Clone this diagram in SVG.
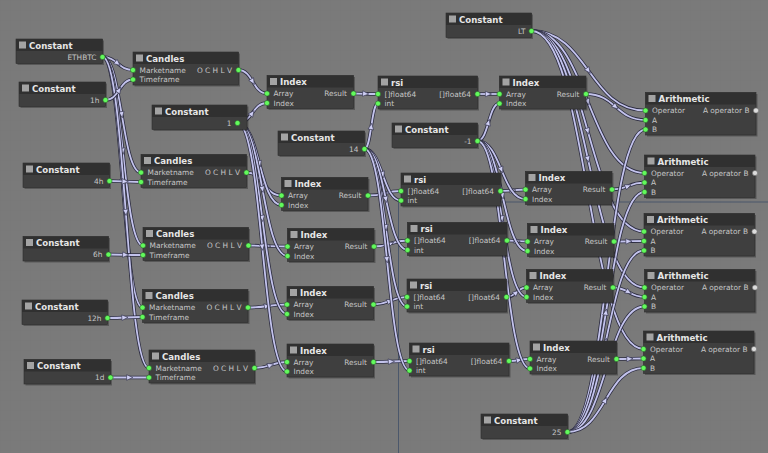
<svg xmlns="http://www.w3.org/2000/svg" width="768" height="453" viewBox="0 0 768 453">
<style>
.sh{fill:#000;fill-opacity:.28}
.bd{fill:#3f3f3f;stroke:#2c2c2c;stroke-width:.6}
.tb{fill:#303030}
.cb{fill:#a3a3a3}
.tt{font-family:"DejaVu Sans",sans-serif;font-weight:bold;font-size:8.6px;fill:#e6e6e6}
.pl{font-family:"DejaVu Sans",sans-serif;font-size:7.4px;fill:#c6c6c6}
.pr{font-family:"DejaVu Sans",sans-serif;font-size:7.4px;fill:#c6c6c6;text-anchor:end}
.pt{fill:#62fa5c;stroke:#2b5f2b;stroke-width:.6}
.pu{fill:#dcdcdc;stroke:#6e6e6e;stroke-width:.6}
.w{fill:none;stroke:var(--c,#c3c3ec);stroke-width:var(--sw,1.8);marker-mid:var(--m,url(#arr))}
.wo{--c:#2c2c40;--sw:3.4;--m:none}
</style>
<defs>
<pattern id="grid" width="10" height="10" patternUnits="userSpaceOnUse"><rect width="10" height="10" fill="#7a7a7a"/><path d="M10 0H0V10" fill="none" stroke="#737373" stroke-width="0.6"/></pattern>
<marker id="arr" viewBox="-4 -4 8 8" refX="0" refY="0" markerWidth="8" markerHeight="8" markerUnits="userSpaceOnUse" orient="auto"><path d="M-3.2,-2.8 L3,0 L-3.2,2.8 Z" fill="#cfcff5" stroke="#3c3c55" stroke-width="0.7"/></marker>
</defs>
<rect width="768" height="453" fill="url(#grid)"/>
<path d="M398.5,453 V202 H768" fill="none" stroke="#4b576b" stroke-width="1"/>

<g id="connectors">
<use class="wo" href="#c1a"/><path id="c1a" class="w" d="M102.5,57 C110.1,57 113.9,60.3 117.8,63.5 S125.4,70 133,70"/>
<use class="wo" href="#c1b"/><path id="c1b" class="w" d="M102.5,57 C112.1,57 116.9,85.9 121.8,114.8 S131.4,172.5 141,172.5"/>
<use class="wo" href="#c1c"/><path id="c1c" class="w" d="M102.5,57 C112.6,57 117.7,104.1 122.8,151.3 S132.9,245.5 143,245.5"/>
<use class="wo" href="#c1d"/><path id="c1d" class="w" d="M102.5,57 C112.5,57 117.5,119.6 122.5,182.3 S132.5,307.5 142.5,307.5"/>
<use class="wo" href="#c1e"/><path id="c1e" class="w" d="M102.5,57 C114.1,57 119.9,134.8 125.8,212.5 S137.4,368 149,368"/>
<use class="wo" href="#c2a"/><path id="c2a" class="w" d="M105.5,100 C112.4,100 115.8,94.9 119.3,89.8 S126.1,79.5 133,79.5"/>
<use class="wo" href="#c2b"/><path id="c2b" class="w" d="M109.5,181 C117.4,181 121.3,181.3 125.3,181.5 S133.1,182 141,182"/>
<use class="wo" href="#c2c"/><path id="c2c" class="w" d="M108.5,254.5 C117.1,254.5 121.4,254.6 125.8,254.8 S134.4,255 143,255"/>
<use class="wo" href="#c2d"/><path id="c2d" class="w" d="M107.5,318 C116.3,318 120.6,317.8 125,317.5 S133.8,317 142.5,317"/>
<use class="wo" href="#c2e"/><path id="c2e" class="w" d="M110.5,377.5 C120.1,377.5 124.9,377.5 129.8,377.5 S139.4,377.5 149,377.5"/>
<use class="wo" href="#c3a"/><path id="c3a" class="w" d="M238.5,70 C245.6,70 249.2,75.9 252.8,81.8 S259.9,93.5 267,93.5"/>
<use class="wo" href="#c3b"/><path id="c3b" class="w" d="M246.5,172.5 C255.3,172.5 259.6,178.3 264,184 S272.8,195.5 281.5,195.5"/>
<use class="wo" href="#c3c"/><path id="c3c" class="w" d="M248.5,245.5 C258.3,245.5 263.1,245.8 268,246 S277.8,246.5 287.5,246.5"/>
<use class="wo" href="#c3d"/><path id="c3d" class="w" d="M248,307.5 C257.8,307.5 262.6,306.8 267.5,306 S277.3,304.5 287,304.5"/>
<use class="wo" href="#c3e"/><path id="c3e" class="w" d="M254.5,368 C262.6,368 266.7,366.5 270.8,365 S278.9,362 287,362"/>
<use class="wo" href="#c4a"/><path id="c4a" class="w" d="M237.5,123 C244.9,123 248.6,118 252.3,113 S259.6,103 267,103"/>
<use class="wo" href="#c4b"/><path id="c4b" class="w" d="M237.5,123 C248.5,123 254,143.5 259.5,164 S270.5,205 281.5,205"/>
<use class="wo" href="#c4c"/><path id="c4c" class="w" d="M237.5,123 C250,123 256.3,156.3 262.5,189.5 S275,256 287.5,256"/>
<use class="wo" href="#c4d"/><path id="c4d" class="w" d="M237.5,123 C249.9,123 256.1,170.8 262.3,218.5 S274.6,314 287,314"/>
<use class="wo" href="#c4e"/><path id="c4e" class="w" d="M237.5,123 C249.9,123 256.1,185.1 262.3,247.3 S274.6,371.5 287,371.5"/>
<use class="wo" href="#c5a"/><path id="c5a" class="w" d="M353.5,93.5 C359.6,93.5 362.7,93.6 365.8,93.8 S371.9,94 378,94"/>
<use class="wo" href="#c5b"/><path id="c5b" class="w" d="M368,195.5 C376.3,195.5 380.4,194.4 384.5,193.3 S392.8,191 401,191"/>
<use class="wo" href="#c5c"/><path id="c5c" class="w" d="M374,246.5 C382.4,246.5 386.6,245 390.8,243.5 S399.1,240.5 407.5,240.5"/>
<use class="wo" href="#c5d"/><path id="c5d" class="w" d="M373.5,304.5 C381.9,304.5 386.1,302.6 390.3,300.8 S398.6,297 407,297"/>
<use class="wo" href="#c5e"/><path id="c5e" class="w" d="M373.5,362 C382.5,362 387,361.8 391.5,361.5 S400.5,361 409.5,361"/>
<use class="wo" href="#c6a"/><path id="c6a" class="w" d="M364.5,149 C367.9,149 369.6,137.6 371.3,126.3 S374.6,103.5 378,103.5"/>
<use class="wo" href="#c6b"/><path id="c6b" class="w" d="M364.5,149 C373.6,149 378.2,161.9 382.8,174.8 S391.9,200.5 401,200.5"/>
<use class="wo" href="#c6c"/><path id="c6c" class="w" d="M364.5,149 C375.3,149 380.6,174.3 386,199.5 S396.8,250 407.5,250"/>
<use class="wo" href="#c6d"/><path id="c6d" class="w" d="M364.5,149 C375.1,149 380.4,188.4 385.8,227.8 S396.4,306.5 407,306.5"/>
<use class="wo" href="#c6e"/><path id="c6e" class="w" d="M364.5,149 C375.8,149 381.4,204.4 387,259.8 S398.3,370.5 409.5,370.5"/>
<use class="wo" href="#c7a"/><path id="c7a" class="w" d="M477.5,94 C483,94 485.8,94 488.5,94 S494,94 499.5,94"/>
<use class="wo" href="#c7b"/><path id="c7b" class="w" d="M500.5,191 C506.8,191 509.9,190.6 513,190.3 S519.3,189.5 525.5,189.5"/>
<use class="wo" href="#c7c"/><path id="c7c" class="w" d="M507,240.5 C512.1,240.5 514.7,240.8 517.3,241 S522.4,241.5 527.5,241.5"/>
<use class="wo" href="#c7d"/><path id="c7d" class="w" d="M506.5,297 C511.5,297 514,294.6 516.5,292.3 S521.5,287.5 526.5,287.5"/>
<use class="wo" href="#c7e"/><path id="c7e" class="w" d="M509,361 C514.3,361 516.9,360.5 519.5,360 S524.8,359 530,359"/>
<use class="wo" href="#c8a"/><path id="c8a" class="w" d="M477.5,141 C483,141 485.8,131.6 488.5,122.3 S494,103.5 499.5,103.5"/>
<use class="wo" href="#c8b"/><path id="c8b" class="w" d="M477.5,141 C489.5,141 495.5,155.5 501.5,170 S513.5,199 525.5,199"/>
<use class="wo" href="#c8c"/><path id="c8c" class="w" d="M477.5,141 C490,141 496.3,168.5 502.5,196 S515,251 527.5,251"/>
<use class="wo" href="#c8d"/><path id="c8d" class="w" d="M477.5,141 C489.8,141 495.9,180 502,219 S514.3,297 526.5,297"/>
<use class="wo" href="#c8e"/><path id="c8e" class="w" d="M477.5,141 C490.6,141 497.2,197.9 503.8,254.8 S516.9,368.5 530,368.5"/>
<use class="wo" href="#c9a"/><path id="c9a" class="w" d="M586,94 C600.9,94 608.3,100.5 615.8,107 S630.6,120 645.5,120"/>
<use class="wo" href="#c9b"/><path id="c9b" class="w" d="M612,189.5 C620.1,189.5 624.2,187.8 628.3,186 S636.4,182.5 644.5,182.5"/>
<use class="wo" href="#c9c"/><path id="c9c" class="w" d="M614,241.5 C621.5,241.5 625.3,241.4 629,241.3 S636.5,241 644,241"/>
<use class="wo" href="#c9d"/><path id="c9d" class="w" d="M613,287.5 C620.9,287.5 624.8,289.9 628.8,292.3 S636.6,297 644.5,297"/>
<use class="wo" href="#c9e"/><path id="c9e" class="w" d="M616.5,359 C623.3,359 626.6,358.9 630,358.8 S636.8,358.5 643.5,358.5"/>
<use class="wo" href="#c10a"/><path id="c10a" class="w" d="M531.5,31 C560,31 574.3,50.9 588.5,70.8 S617,110.5 645.5,110.5"/>
<use class="wo" href="#c10b"/><path id="c10b" class="w" d="M531.5,31 C559.8,31 573.9,66.5 588,102 S616.3,173 644.5,173"/>
<use class="wo" href="#c10c"/><path id="c10c" class="w" d="M531.5,31 C559.6,31 573.7,81.1 587.8,131.3 S615.9,231.5 644,231.5"/>
<use class="wo" href="#c10d"/><path id="c10d" class="w" d="M531.5,31 C559.8,31 573.9,95.1 588,159.3 S616.3,287.5 644.5,287.5"/>
<use class="wo" href="#c10e"/><path id="c10e" class="w" d="M531.5,31 C559.5,31 573.5,110.5 587.5,190 S615.5,349 643.5,349"/>
<use class="wo" href="#c11a"/><path id="c11a" class="w" d="M567.5,432 C587,432 596.8,356.4 606.5,280.8 S626,129.5 645.5,129.5"/>
<use class="wo" href="#c11b"/><path id="c11b" class="w" d="M567.5,432 C586.8,432 596.4,372 606,312 S625.3,192 644.5,192"/>
<use class="wo" href="#c11c"/><path id="c11c" class="w" d="M567.5,432 C586.6,432 596.2,386.6 605.8,341.3 S624.9,250.5 644,250.5"/>
<use class="wo" href="#c11d"/><path id="c11d" class="w" d="M567.5,432 C586.8,432 596.4,400.6 606,369.3 S625.3,306.5 644.5,306.5"/>
<use class="wo" href="#c11e"/><path id="c11e" class="w" d="M567.5,432 C586.5,432 596,416 605.5,400 S624.5,368 643.5,368"/>
</g>

<!-- Constants -->
<g id="n-const-ethbtc" transform="translate(16,39)">
<rect class="sh" x="1.5" y="1.5" width="86.5" height="24.5"/><rect class="bd" width="86.5" height="24.5"/><rect class="tb" width="86.5" height="12"/><rect class="cb" x="3" y="2.5" width="7" height="7"/>
<text class="tt" x="13" y="9.6">Constant</text><text class="pr" x="80.5" y="20.6">ETHBTC</text><circle class="pt" cx="86.5" cy="18" r="2.6"/>
</g>
<g id="n-const-1h" transform="translate(19,82)">
<rect class="sh" x="1.5" y="1.5" width="86.5" height="24.5"/><rect class="bd" width="86.5" height="24.5"/><rect class="tb" width="86.5" height="12"/><rect class="cb" x="3" y="2.5" width="7" height="7"/>
<text class="tt" x="13" y="9.6">Constant</text><text class="pr" x="80.5" y="20.6">1h</text><circle class="pt" cx="86.5" cy="18" r="2.6"/>
</g>
<g id="n-const-4h" transform="translate(23,163)">
<rect class="sh" x="1.5" y="1.5" width="86.5" height="24.5"/><rect class="bd" width="86.5" height="24.5"/><rect class="tb" width="86.5" height="12"/><rect class="cb" x="3" y="2.5" width="7" height="7"/>
<text class="tt" x="13" y="9.6">Constant</text><text class="pr" x="80.5" y="20.6">4h</text><circle class="pt" cx="86.5" cy="18" r="2.6"/>
</g>
<g id="n-const-6h" transform="translate(23,236.5)">
<rect class="sh" x="1.5" y="1.5" width="85.5" height="24.5"/><rect class="bd" width="85.5" height="24.5"/><rect class="tb" width="85.5" height="12"/><rect class="cb" x="3" y="2.5" width="7" height="7"/>
<text class="tt" x="13" y="9.6">Constant</text><text class="pr" x="79.5" y="20.6">6h</text><circle class="pt" cx="85.5" cy="18" r="2.6"/>
</g>
<g id="n-const-12h" transform="translate(22,300)">
<rect class="sh" x="1.5" y="1.5" width="85.5" height="24.5"/><rect class="bd" width="85.5" height="24.5"/><rect class="tb" width="85.5" height="12"/><rect class="cb" x="3" y="2.5" width="7" height="7"/>
<text class="tt" x="13" y="9.6">Constant</text><text class="pr" x="79.5" y="20.6">12h</text><circle class="pt" cx="85.5" cy="18" r="2.6"/>
</g>
<g id="n-const-1d" transform="translate(24,359.5)">
<rect class="sh" x="1.5" y="1.5" width="86.5" height="24.5"/><rect class="bd" width="86.5" height="24.5"/><rect class="tb" width="86.5" height="12"/><rect class="cb" x="3" y="2.5" width="7" height="7"/>
<text class="tt" x="13" y="9.6">Constant</text><text class="pr" x="80.5" y="20.6">1d</text><circle class="pt" cx="86.5" cy="18" r="2.6"/>
</g>
<g id="n-const-1" transform="translate(152,105)">
<rect class="sh" x="1.5" y="1.5" width="95" height="24.5"/><rect class="bd" width="95" height="24.5"/><rect class="tb" width="95" height="12"/><rect class="cb" x="3" y="2.5" width="7" height="7"/>
<text class="tt" x="13" y="9.6">Constant</text><text class="pr" x="79.5" y="20.6">1</text><circle class="pt" cx="85.5" cy="18" r="2.6"/>
</g>
<g id="n-const-14" transform="translate(278,131)">
<rect class="sh" x="1.5" y="1.5" width="86.5" height="24.5"/><rect class="bd" width="86.5" height="24.5"/><rect class="tb" width="86.5" height="12"/><rect class="cb" x="3" y="2.5" width="7" height="7"/>
<text class="tt" x="13" y="9.6">Constant</text><text class="pr" x="80.5" y="20.6">14</text><circle class="pt" cx="86.5" cy="18" r="2.6"/>
</g>
<g id="n-const-minus1" transform="translate(392,123)">
<rect class="sh" x="1.5" y="1.5" width="85.5" height="24.5"/><rect class="bd" width="85.5" height="24.5"/><rect class="tb" width="85.5" height="12"/><rect class="cb" x="3" y="2.5" width="7" height="7"/>
<text class="tt" x="13" y="9.6">Constant</text><text class="pr" x="79.5" y="20.6">-1</text><circle class="pt" cx="85.5" cy="18" r="2.6"/>
</g>
<g id="n-const-lt" transform="translate(446,13)">
<rect class="sh" x="1.5" y="1.5" width="85.5" height="24.5"/><rect class="bd" width="85.5" height="24.5"/><rect class="tb" width="85.5" height="12"/><rect class="cb" x="3" y="2.5" width="7" height="7"/>
<text class="tt" x="13" y="9.6">Constant</text><text class="pr" x="79.5" y="20.6">LT</text><circle class="pt" cx="85.5" cy="18" r="2.6"/>
</g>
<g id="n-const-25" transform="translate(481,414)">
<rect class="sh" x="1.5" y="1.5" width="86.5" height="24.5"/><rect class="bd" width="86.5" height="24.5"/><rect class="tb" width="86.5" height="12"/><rect class="cb" x="3" y="2.5" width="7" height="7"/>
<text class="tt" x="13" y="9.6">Constant</text><text class="pr" x="80.5" y="20.6">25</text><circle class="pt" cx="86.5" cy="18" r="2.6"/>
</g>

<!-- Candles -->
<g id="n-candles-1h" transform="translate(133,52)">
<rect class="sh" x="1.5" y="1.5" width="105.5" height="33"/><rect class="bd" width="105.5" height="33"/><rect class="tb" width="105.5" height="12"/><rect class="cb" x="3" y="2.5" width="7" height="7"/>
<text class="tt" x="13" y="9.6">Candles</text><text class="pl" x="6.5" y="20.6">Marketname</text><text class="pl" x="6.5" y="30.1">Timeframe</text><text class="pr" x="99" y="20.6">O C H L V</text>
<circle class="pt" cx="0" cy="18" r="2.6"/><circle class="pt" cx="0" cy="27.5" r="2.6"/><circle class="pt" cx="105.5" cy="18" r="2.6"/>
</g>
<g id="n-candles-4h" transform="translate(141,154.5)">
<rect class="sh" x="1.5" y="1.5" width="105.5" height="33"/><rect class="bd" width="105.5" height="33"/><rect class="tb" width="105.5" height="12"/><rect class="cb" x="3" y="2.5" width="7" height="7"/>
<text class="tt" x="13" y="9.6">Candles</text><text class="pl" x="6.5" y="20.6">Marketname</text><text class="pl" x="6.5" y="30.1">Timeframe</text><text class="pr" x="99" y="20.6">O C H L V</text>
<circle class="pt" cx="0" cy="18" r="2.6"/><circle class="pt" cx="0" cy="27.5" r="2.6"/><circle class="pt" cx="105.5" cy="18" r="2.6"/>
</g>
<g id="n-candles-6h" transform="translate(143,227.5)">
<rect class="sh" x="1.5" y="1.5" width="105.5" height="33"/><rect class="bd" width="105.5" height="33"/><rect class="tb" width="105.5" height="12"/><rect class="cb" x="3" y="2.5" width="7" height="7"/>
<text class="tt" x="13" y="9.6">Candles</text><text class="pl" x="6.5" y="20.6">Marketname</text><text class="pl" x="6.5" y="30.1">Timeframe</text><text class="pr" x="99" y="20.6">O C H L V</text>
<circle class="pt" cx="0" cy="18" r="2.6"/><circle class="pt" cx="0" cy="27.5" r="2.6"/><circle class="pt" cx="105.5" cy="18" r="2.6"/>
</g>
<g id="n-candles-12h" transform="translate(142.5,289.5)">
<rect class="sh" x="1.5" y="1.5" width="105.5" height="33"/><rect class="bd" width="105.5" height="33"/><rect class="tb" width="105.5" height="12"/><rect class="cb" x="3" y="2.5" width="7" height="7"/>
<text class="tt" x="13" y="9.6">Candles</text><text class="pl" x="6.5" y="20.6">Marketname</text><text class="pl" x="6.5" y="30.1">Timeframe</text><text class="pr" x="99" y="20.6">O C H L V</text>
<circle class="pt" cx="0" cy="18" r="2.6"/><circle class="pt" cx="0" cy="27.5" r="2.6"/><circle class="pt" cx="105.5" cy="18" r="2.6"/>
</g>
<g id="n-candles-1d" transform="translate(149,350)">
<rect class="sh" x="1.5" y="1.5" width="105.5" height="33"/><rect class="bd" width="105.5" height="33"/><rect class="tb" width="105.5" height="12"/><rect class="cb" x="3" y="2.5" width="7" height="7"/>
<text class="tt" x="13" y="9.6">Candles</text><text class="pl" x="6.5" y="20.6">Marketname</text><text class="pl" x="6.5" y="30.1">Timeframe</text><text class="pr" x="99" y="20.6">O C H L V</text>
<circle class="pt" cx="0" cy="18" r="2.6"/><circle class="pt" cx="0" cy="27.5" r="2.6"/><circle class="pt" cx="105.5" cy="18" r="2.6"/>
</g>

<!-- Index column 1 -->
<g id="n-index-a1" transform="translate(267,75.5)">
<rect class="sh" x="1.5" y="1.5" width="86.5" height="33"/><rect class="bd" width="86.5" height="33"/><rect class="tb" width="86.5" height="12"/><rect class="cb" x="3" y="2.5" width="7" height="7"/>
<text class="tt" x="13" y="9.6">Index</text><text class="pl" x="6.5" y="20.6">Array</text><text class="pl" x="6.5" y="30.1">Index</text><text class="pr" x="80" y="20.6">Result</text>
<circle class="pt" cx="0" cy="18" r="2.6"/><circle class="pt" cx="0" cy="27.5" r="2.6"/><circle class="pt" cx="86.5" cy="18" r="2.6"/>
</g>
<g id="n-index-a2" transform="translate(281.5,177.5)">
<rect class="sh" x="1.5" y="1.5" width="86.5" height="33"/><rect class="bd" width="86.5" height="33"/><rect class="tb" width="86.5" height="12"/><rect class="cb" x="3" y="2.5" width="7" height="7"/>
<text class="tt" x="13" y="9.6">Index</text><text class="pl" x="6.5" y="20.6">Array</text><text class="pl" x="6.5" y="30.1">Index</text><text class="pr" x="80" y="20.6">Result</text>
<circle class="pt" cx="0" cy="18" r="2.6"/><circle class="pt" cx="0" cy="27.5" r="2.6"/><circle class="pt" cx="86.5" cy="18" r="2.6"/>
</g>
<g id="n-index-a3" transform="translate(287.5,228.5)">
<rect class="sh" x="1.5" y="1.5" width="86.5" height="33"/><rect class="bd" width="86.5" height="33"/><rect class="tb" width="86.5" height="12"/><rect class="cb" x="3" y="2.5" width="7" height="7"/>
<text class="tt" x="13" y="9.6">Index</text><text class="pl" x="6.5" y="20.6">Array</text><text class="pl" x="6.5" y="30.1">Index</text><text class="pr" x="80" y="20.6">Result</text>
<circle class="pt" cx="0" cy="18" r="2.6"/><circle class="pt" cx="0" cy="27.5" r="2.6"/><circle class="pt" cx="86.5" cy="18" r="2.6"/>
</g>
<g id="n-index-a4" transform="translate(287,286.5)">
<rect class="sh" x="1.5" y="1.5" width="86.5" height="33"/><rect class="bd" width="86.5" height="33"/><rect class="tb" width="86.5" height="12"/><rect class="cb" x="3" y="2.5" width="7" height="7"/>
<text class="tt" x="13" y="9.6">Index</text><text class="pl" x="6.5" y="20.6">Array</text><text class="pl" x="6.5" y="30.1">Index</text><text class="pr" x="80" y="20.6">Result</text>
<circle class="pt" cx="0" cy="18" r="2.6"/><circle class="pt" cx="0" cy="27.5" r="2.6"/><circle class="pt" cx="86.5" cy="18" r="2.6"/>
</g>
<g id="n-index-a5" transform="translate(287,344)">
<rect class="sh" x="1.5" y="1.5" width="86.5" height="33"/><rect class="bd" width="86.5" height="33"/><rect class="tb" width="86.5" height="12"/><rect class="cb" x="3" y="2.5" width="7" height="7"/>
<text class="tt" x="13" y="9.6">Index</text><text class="pl" x="6.5" y="20.6">Array</text><text class="pl" x="6.5" y="30.1">Index</text><text class="pr" x="80" y="20.6">Result</text>
<circle class="pt" cx="0" cy="18" r="2.6"/><circle class="pt" cx="0" cy="27.5" r="2.6"/><circle class="pt" cx="86.5" cy="18" r="2.6"/>
</g>

<!-- rsi -->
<g id="n-rsi-1" transform="translate(378,76)">
<rect class="sh" x="1.5" y="1.5" width="99.5" height="33"/><rect class="bd" width="99.5" height="33"/><rect class="tb" width="99.5" height="12"/><rect class="cb" x="3" y="2.5" width="7" height="7"/>
<text class="tt" x="13" y="9.6">rsi</text><text class="pl" x="6.5" y="20.6">[]float64</text><text class="pl" x="6.5" y="30.1">int</text><text class="pr" x="93" y="20.6">[]float64</text>
<circle class="pt" cx="0" cy="18" r="2.6"/><circle class="pt" cx="0" cy="27.5" r="2.6"/><circle class="pt" cx="99.5" cy="18" r="2.6"/>
</g>
<g id="n-rsi-2" transform="translate(401,173)">
<rect class="sh" x="1.5" y="1.5" width="99.5" height="33"/><rect class="bd" width="99.5" height="33"/><rect class="tb" width="99.5" height="12"/><rect class="cb" x="3" y="2.5" width="7" height="7"/>
<text class="tt" x="13" y="9.6">rsi</text><text class="pl" x="6.5" y="20.6">[]float64</text><text class="pl" x="6.5" y="30.1">int</text><text class="pr" x="93" y="20.6">[]float64</text>
<circle class="pt" cx="0" cy="18" r="2.6"/><circle class="pt" cx="0" cy="27.5" r="2.6"/><circle class="pt" cx="99.5" cy="18" r="2.6"/>
</g>
<g id="n-rsi-3" transform="translate(407.5,222.5)">
<rect class="sh" x="1.5" y="1.5" width="99.5" height="33"/><rect class="bd" width="99.5" height="33"/><rect class="tb" width="99.5" height="12"/><rect class="cb" x="3" y="2.5" width="7" height="7"/>
<text class="tt" x="13" y="9.6">rsi</text><text class="pl" x="6.5" y="20.6">[]float64</text><text class="pl" x="6.5" y="30.1">int</text><text class="pr" x="93" y="20.6">[]float64</text>
<circle class="pt" cx="0" cy="18" r="2.6"/><circle class="pt" cx="0" cy="27.5" r="2.6"/><circle class="pt" cx="99.5" cy="18" r="2.6"/>
</g>
<g id="n-rsi-4" transform="translate(407,279)">
<rect class="sh" x="1.5" y="1.5" width="99.5" height="33"/><rect class="bd" width="99.5" height="33"/><rect class="tb" width="99.5" height="12"/><rect class="cb" x="3" y="2.5" width="7" height="7"/>
<text class="tt" x="13" y="9.6">rsi</text><text class="pl" x="6.5" y="20.6">[]float64</text><text class="pl" x="6.5" y="30.1">int</text><text class="pr" x="93" y="20.6">[]float64</text>
<circle class="pt" cx="0" cy="18" r="2.6"/><circle class="pt" cx="0" cy="27.5" r="2.6"/><circle class="pt" cx="99.5" cy="18" r="2.6"/>
</g>
<g id="n-rsi-5" transform="translate(409.5,343)">
<rect class="sh" x="1.5" y="1.5" width="99.5" height="33"/><rect class="bd" width="99.5" height="33"/><rect class="tb" width="99.5" height="12"/><rect class="cb" x="3" y="2.5" width="7" height="7"/>
<text class="tt" x="13" y="9.6">rsi</text><text class="pl" x="6.5" y="20.6">[]float64</text><text class="pl" x="6.5" y="30.1">int</text><text class="pr" x="93" y="20.6">[]float64</text>
<circle class="pt" cx="0" cy="18" r="2.6"/><circle class="pt" cx="0" cy="27.5" r="2.6"/><circle class="pt" cx="99.5" cy="18" r="2.6"/>
</g>

<!-- Index column 2 -->
<g id="n-index-b1" transform="translate(499.5,76)">
<rect class="sh" x="1.5" y="1.5" width="86.5" height="33"/><rect class="bd" width="86.5" height="33"/><rect class="tb" width="86.5" height="12"/><rect class="cb" x="3" y="2.5" width="7" height="7"/>
<text class="tt" x="13" y="9.6">Index</text><text class="pl" x="6.5" y="20.6">Array</text><text class="pl" x="6.5" y="30.1">Index</text><text class="pr" x="80" y="20.6">Result</text>
<circle class="pt" cx="0" cy="18" r="2.6"/><circle class="pt" cx="0" cy="27.5" r="2.6"/><circle class="pt" cx="86.5" cy="18" r="2.6"/>
</g>
<g id="n-index-b2" transform="translate(525.5,171.5)">
<rect class="sh" x="1.5" y="1.5" width="86.5" height="33"/><rect class="bd" width="86.5" height="33"/><rect class="tb" width="86.5" height="12"/><rect class="cb" x="3" y="2.5" width="7" height="7"/>
<text class="tt" x="13" y="9.6">Index</text><text class="pl" x="6.5" y="20.6">Array</text><text class="pl" x="6.5" y="30.1">Index</text><text class="pr" x="80" y="20.6">Result</text>
<circle class="pt" cx="0" cy="18" r="2.6"/><circle class="pt" cx="0" cy="27.5" r="2.6"/><circle class="pt" cx="86.5" cy="18" r="2.6"/>
</g>
<g id="n-index-b3" transform="translate(527.5,223.5)">
<rect class="sh" x="1.5" y="1.5" width="86.5" height="33"/><rect class="bd" width="86.5" height="33"/><rect class="tb" width="86.5" height="12"/><rect class="cb" x="3" y="2.5" width="7" height="7"/>
<text class="tt" x="13" y="9.6">Index</text><text class="pl" x="6.5" y="20.6">Array</text><text class="pl" x="6.5" y="30.1">Index</text><text class="pr" x="80" y="20.6">Result</text>
<circle class="pt" cx="0" cy="18" r="2.6"/><circle class="pt" cx="0" cy="27.5" r="2.6"/><circle class="pt" cx="86.5" cy="18" r="2.6"/>
</g>
<g id="n-index-b4" transform="translate(526.5,269.5)">
<rect class="sh" x="1.5" y="1.5" width="86.5" height="33"/><rect class="bd" width="86.5" height="33"/><rect class="tb" width="86.5" height="12"/><rect class="cb" x="3" y="2.5" width="7" height="7"/>
<text class="tt" x="13" y="9.6">Index</text><text class="pl" x="6.5" y="20.6">Array</text><text class="pl" x="6.5" y="30.1">Index</text><text class="pr" x="80" y="20.6">Result</text>
<circle class="pt" cx="0" cy="18" r="2.6"/><circle class="pt" cx="0" cy="27.5" r="2.6"/><circle class="pt" cx="86.5" cy="18" r="2.6"/>
</g>
<g id="n-index-b5" transform="translate(530,341)">
<rect class="sh" x="1.5" y="1.5" width="86.5" height="33"/><rect class="bd" width="86.5" height="33"/><rect class="tb" width="86.5" height="12"/><rect class="cb" x="3" y="2.5" width="7" height="7"/>
<text class="tt" x="13" y="9.6">Index</text><text class="pl" x="6.5" y="20.6">Array</text><text class="pl" x="6.5" y="30.1">Index</text><text class="pr" x="80" y="20.6">Result</text>
<circle class="pt" cx="0" cy="18" r="2.6"/><circle class="pt" cx="0" cy="27.5" r="2.6"/><circle class="pt" cx="86.5" cy="18" r="2.6"/>
</g>

<!-- Arithmetic -->
<g id="n-arith-1" transform="translate(645.5,92.5)">
<rect class="sh" x="1.5" y="1.5" width="110.5" height="42.5"/><rect class="bd" width="110.5" height="42.5"/><rect class="tb" width="110.5" height="12"/><rect class="cb" x="3" y="2.5" width="7" height="7"/>
<text class="tt" x="13" y="9.6">Arithmetic</text><text class="pl" x="6.5" y="20.6">Operator</text><text class="pl" x="6.5" y="30.1">A</text><text class="pl" x="6.5" y="39.6">B</text><text class="pr" x="104" y="20.6">A operator B</text>
<circle class="pt" cx="0" cy="18" r="2.6"/><circle class="pt" cx="0" cy="27.5" r="2.6"/><circle class="pt" cx="0" cy="37" r="2.6"/><circle class="pu" cx="110.5" cy="18" r="2.6"/>
</g>
<g id="n-arith-2" transform="translate(644.5,155)">
<rect class="sh" x="1.5" y="1.5" width="110.5" height="42.5"/><rect class="bd" width="110.5" height="42.5"/><rect class="tb" width="110.5" height="12"/><rect class="cb" x="3" y="2.5" width="7" height="7"/>
<text class="tt" x="13" y="9.6">Arithmetic</text><text class="pl" x="6.5" y="20.6">Operator</text><text class="pl" x="6.5" y="30.1">A</text><text class="pl" x="6.5" y="39.6">B</text><text class="pr" x="104" y="20.6">A operator B</text>
<circle class="pt" cx="0" cy="18" r="2.6"/><circle class="pt" cx="0" cy="27.5" r="2.6"/><circle class="pt" cx="0" cy="37" r="2.6"/><circle class="pu" cx="110.5" cy="18" r="2.6"/>
</g>
<g id="n-arith-3" transform="translate(644,213.5)">
<rect class="sh" x="1.5" y="1.5" width="110.5" height="42.5"/><rect class="bd" width="110.5" height="42.5"/><rect class="tb" width="110.5" height="12"/><rect class="cb" x="3" y="2.5" width="7" height="7"/>
<text class="tt" x="13" y="9.6">Arithmetic</text><text class="pl" x="6.5" y="20.6">Operator</text><text class="pl" x="6.5" y="30.1">A</text><text class="pl" x="6.5" y="39.6">B</text><text class="pr" x="104" y="20.6">A operator B</text>
<circle class="pt" cx="0" cy="18" r="2.6"/><circle class="pt" cx="0" cy="27.5" r="2.6"/><circle class="pt" cx="0" cy="37" r="2.6"/><circle class="pu" cx="110.5" cy="18" r="2.6"/>
</g>
<g id="n-arith-4" transform="translate(644.5,269.5)">
<rect class="sh" x="1.5" y="1.5" width="110.5" height="42.5"/><rect class="bd" width="110.5" height="42.5"/><rect class="tb" width="110.5" height="12"/><rect class="cb" x="3" y="2.5" width="7" height="7"/>
<text class="tt" x="13" y="9.6">Arithmetic</text><text class="pl" x="6.5" y="20.6">Operator</text><text class="pl" x="6.5" y="30.1">A</text><text class="pl" x="6.5" y="39.6">B</text><text class="pr" x="104" y="20.6">A operator B</text>
<circle class="pt" cx="0" cy="18" r="2.6"/><circle class="pt" cx="0" cy="27.5" r="2.6"/><circle class="pt" cx="0" cy="37" r="2.6"/><circle class="pu" cx="110.5" cy="18" r="2.6"/>
</g>
<g id="n-arith-5" transform="translate(643.5,331)">
<rect class="sh" x="1.5" y="1.5" width="110.5" height="42.5"/><rect class="bd" width="110.5" height="42.5"/><rect class="tb" width="110.5" height="12"/><rect class="cb" x="3" y="2.5" width="7" height="7"/>
<text class="tt" x="13" y="9.6">Arithmetic</text><text class="pl" x="6.5" y="20.6">Operator</text><text class="pl" x="6.5" y="30.1">A</text><text class="pl" x="6.5" y="39.6">B</text><text class="pr" x="104" y="20.6">A operator B</text>
<circle class="pt" cx="0" cy="18" r="2.6"/><circle class="pt" cx="0" cy="27.5" r="2.6"/><circle class="pt" cx="0" cy="37" r="2.6"/><circle class="pu" cx="110.5" cy="18" r="2.6"/>
</g>
</svg>
